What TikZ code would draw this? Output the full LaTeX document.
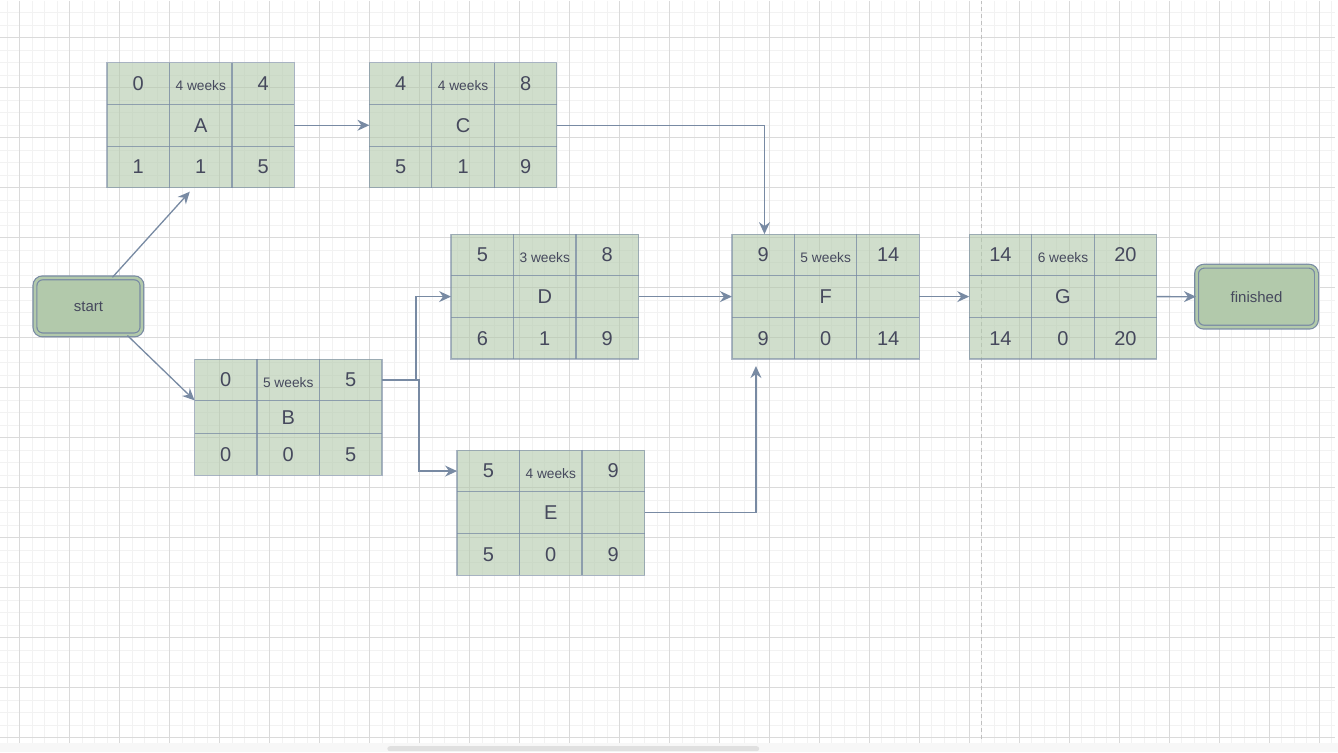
\documentclass[tikz,border=0pt]{standalone}
\usepackage{fontspec}
\setmainfont{Liberation Sans}
\usepackage{tikz}
\usetikzlibrary{arrows.meta,calc}
\definecolor{Sage}{HTML}{B2C9AB}
\definecolor{Edge}{HTML}{788AA3}
\definecolor{Ink}{HTML}{46495D}
\definecolor{GridMajor}{RGB}{218,218,218}
\definecolor{GridMinor}{RGB}{242,242,242}
\definecolor{GridDash}{RGB}{192,192,192}

\begin{document}
\begin{tikzpicture}[x=1pt, y=-1pt,
    actbox/.style={draw=Edge, draw opacity=0.6, fill=Sage, fill opacity=0.6,
        line width=1.2pt, minimum width=187.5pt, minimum height=125pt,
        inner sep=0pt, outer sep=0pt},
    cellline/.style={draw=Edge, draw opacity=0.75, line width=1.1pt},
    endbox/.style={draw=Edge, double=Sage, double distance=2.6pt, line width=1.2pt,
        fill=Sage, rounded corners=7.5pt, minimum width=107pt, minimum height=57pt,
        text=Ink, font=\fontsize{15}{18}\selectfont},
    num/.style={text=Ink, font=\fontsize{20}{24}\selectfont, inner sep=0pt},
    dur/.style={text=Ink, font=\fontsize{13.75}{16}\selectfont, inner sep=0pt},
    arr/.style={draw=Edge, line width=1.3pt, -{Stealth[length=12pt, width=11pt, inset=4pt]}}]

    %% Background
    \draw[draw=none, fill=white] (0,0) rectangle (1338,752);
    \fill[black!3] (0,743) rectangle (1338,752);
    \fill[black!12, rounded corners=2.5pt] (387,746) rectangle (759,751);

    %% Grid
    \foreach \gx in {6.8,19.3,...,1335}
        \draw[GridMinor, line width=1pt] (\gx,0) -- (\gx,743);
    \foreach \gy in {12.3,24.8,...,743}
        \draw[GridMinor, line width=1pt] (0,\gy) -- (1335,\gy);
    \foreach \gx in {19.3,69.3,...,1335}
        \draw[GridMajor, line width=1pt] (\gx,0) -- (\gx,743);
    \foreach \gy in {37.3,87.3,...,743}
        \draw[GridMajor, line width=1pt] (0,\gy) -- (1335,\gy);
    \draw[GridDash, line width=1pt, dash pattern=on 4pt off 3pt] (981.7,0) -- (981.7,740);

    %% Start and end
    \node[endbox] (start) at (88,306) {start};
    \node[endbox, minimum width=120pt, minimum height=61pt] (finished) at (1256.5,296.3) {finished};

    %% Activities
    \node[actbox] (A) at (200.35,124.8) {};
    \node[actbox] (C) at (462.75,124.8) {};
    \node[actbox, minimum height=116pt] (B) at (287.85,417) {};
    \node[actbox] (D) at (544.5,296.2) {};
    \node[actbox] (E) at (550.5,512.5) {};
    \node[actbox] (F) at (825.5,296.2) {};
    \node[actbox] (G) at (1062.85,296.2) {};

    \foreach \n/\es/\dur/\ef/\ls/\sl/\lf in {A/0/4 weeks/4/1/1/5, C/4/4 weeks/8/5/1/9,
        B/0/5 weeks/5/0/0/5, D/5/3 weeks/8/6/1/9, E/5/4 weeks/9/5/0/9,
        F/9/5 weeks/14/9/0/14, G/14/6 weeks/20/14/0/20} {
        \draw[cellline] ($(\n.north west)+(62.5,0)$) -- ($(\n.south west)+(62.5,0)$);
        \draw[cellline] ($(\n.north west)+(125,0)$) -- ($(\n.south west)+(125,0)$);
        \draw[cellline] ($(\n.north west)+(0,41.5)$) -- ($(\n.north east)+(0,41.5)$);
        \draw[cellline] ($(\n.south west)+(0,-41.5)$) -- ($(\n.south east)+(0,-41.5)$);
        \node[num] (\n-es) at ($(\n.north west)+(31.25,20.75)$) {\es};
        \node[dur] (\n-dur) at ($(\n.north)+(0,23)$) {\dur};
        \node[num] (\n-ef) at ($(\n.north east)+(-31.25,20.75)$) {\ef};
        \node[num] (\n-name) at (\n) {\n};
        \node[num] (\n-ls) at ($(\n.south west)+(31.25,-20.75)$) {\ls};
        \node[num] (\n-sl) at ($(\n.south)+(0,-20.75)$) {\sl};
        \node[num] (\n-lf) at ($(\n.south east)+(-31.25,-20.75)$) {\lf};
    }

    %% Links
    \coordinate (Bout) at ($(B.north east)+(0,20.5)$);
    \draw[arr] ($(start.north)+(24,0)$) -- ($(A.south)+(-11,4)$);
    \draw[arr] ($(start.south)+(39,0)$) -- ($(B.north west)+(0,41)$);
    \draw[arr] (A) -- (C);
    \draw[arr] (C.east) -| ($(F.north west)+(32.5,0)$);
    \draw[arr] (Bout) -- ++(34,0) |- (D.west);
    \draw[arr] (Bout) -- ++(37,0) |- ($(E.north west)+(0,20.75)$);
    \draw[arr] (D) -- (F);
    \draw[arr] (E) -| ($(F.south west)+(24,7)$);
    \draw[arr] (F) -- (G);
    \draw[arr] (G) -- (finished);

\end{tikzpicture}
\end{document}
